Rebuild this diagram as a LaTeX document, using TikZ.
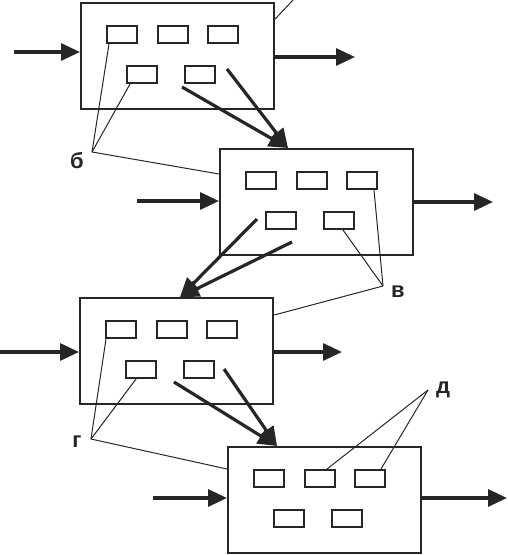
\documentclass[tikz,border=0pt]{standalone}
\usepackage{fontspec}
\setmainfont{Liberation Sans}
\usetikzlibrary{arrows.meta}
\newcommand\unitblock[3]{%
  \node[blockbox] (#1) at (#2,#3) {};
  \node[cell] (#1c1) at (#2+42,#3+32.5) {};
  \node[cell] (#1c2) at (#2+93,#3+32.5) {};
  \node[cell] (#1c3) at (#2+143,#3+32.5) {};
  \node[cell] (#1c4) at (#2+62,#3+72.5) {};
  \node[cell] (#1c5) at (#2+120,#3+72.5) {};
}
\begin{document}
\begin{tikzpicture}[x=1pt,y=-1pt,
  blockbox/.style={draw=black!85, line width=2.2pt, minimum width=193pt, minimum height=106pt, inner sep=0pt, anchor=north west},
  cell/.style={draw=black!85, line width=2pt, minimum width=30pt, minimum height=17pt, inner sep=0pt},
  flow/.style={draw=black!85, line width=3.2pt, -{Triangle[length=19pt,width=17pt]}},
  leader/.style={draw=black!85, line width=1pt},
  lbl/.style={text=black!85, font=\bfseries\fontsize{22}{24}\selectfont, inner sep=0pt}]
\useasboundingbox (0,0) rectangle (507,555);

\unitblock{A}{80}{2}
\unitblock{B}{219}{148}
\unitblock{C}{79}{297}
\unitblock{D}{227}{446}

% inputs and outputs
\coordinate (inA) at (14,52);   \coordinate (outA) at (355,57);
\coordinate (inB) at (137,201); \coordinate (outB) at (493,202);
\coordinate (inC) at (0,352);   \coordinate (outC) at (342,352);
\coordinate (inD) at (153,498); \coordinate (outD) at (507,498);
\draw[flow] (inA) -- (inA -| A.west);
\draw[flow] (outA -| A.east) -- (outA);
\draw[flow] (inB) -- (inB -| B.west);
\draw[flow] (outB -| B.east) -- (outB);
\draw[flow] (inC) -- (inC -| C.west);
\draw[flow] (outC -| C.east) -- (outC);
\draw[flow] (inD) -- (inD -| D.west);
\draw[flow] (outD -| D.east) -- (outD);

% transfers between blocks
\coordinate (a1) at (182,87); \coordinate (a2) at (227,69); \coordinate (tB) at (288,148);
\coordinate (b1) at (257,219); \coordinate (b2) at (292,242); \coordinate (tC) at (180,297);
\coordinate (c1) at (174,382); \coordinate (c2) at (224,369); \coordinate (tD) at (277,446);
\draw[flow] (a1) -- (tB);
\draw[flow] (a2) -- (tB);
\draw[flow] (b1) -- (tC);
\draw[flow] (b2) -- (tC);
\draw[flow] (c1) -- (tD);
\draw[flow] (c2) -- (tD);

% labels
\node[lbl] (lb) at (77,161) {б};
\node[lbl] (lv) at (398,292) {в};
\node[lbl] (lg) at (77,442) {г};
\node[lbl] (ld) at (443,390) {д};

% leader lines
\coordinate (pb) at (92,152);
\draw[leader] (pb) -- ([xshift=3pt]Ac1.south west);
\draw[leader] (pb) -- ([xshift=4pt]Ac4.south west);
\draw[leader] (pb) -- (B.west |- 0,174);
\coordinate (pv) at (383,286);
\draw[leader] (pv) -- ([xshift=-4pt]Bc3.south east);
\draw[leader] (pv) -- ([xshift=20pt]Bc5.south west);
\draw[leader] (pv) -- (C.east |- 0,315);
\coordinate (pg) at (91,439);
\draw[leader] (pg) -- ([xshift=1pt]Cc1.south west);
\draw[leader] (pg) -- ([xshift=11pt]Cc4.south west);
\draw[leader] (pg) -- (D.west |- 0,469);
\coordinate (pd) at (428,390);
\draw[leader] (pd) -- ([xshift=-9pt]Dc2.north east);
\draw[leader] (pd) -- ([xshift=-5pt]Dc3.north east);
\coordinate (top) at (293,0);
\draw[leader] (A.east |- 0,19) -- (top);
\end{tikzpicture}
\end{document}
